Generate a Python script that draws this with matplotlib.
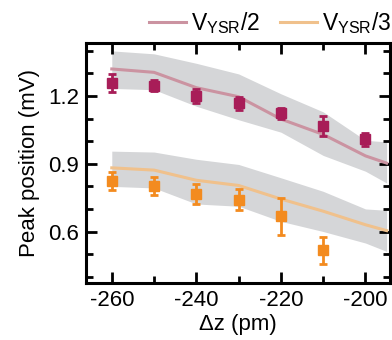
import matplotlib
matplotlib.use("Agg")
import matplotlib.pyplot as plt
from matplotlib.ticker import MultipleLocator

plt.rcParams['font.family'] = ['Liberation Sans', 'DejaVu Sans']
plt.rcParams['mathtext.fontset'] = 'custom'
plt.rcParams['mathtext.rm'] = 'Liberation Sans'

# Simulated curves with uncertainty bands
dz_sim = [-260, -250, -240, -230, -220, -210, -200, -195]
half_line = [1.32, 1.305, 1.237, 1.197, 1.098, 1.03, 0.935, 0.903]
half_upper = [1.40, 1.387, 1.345, 1.298, 1.21, 1.13, 1.004, 0.997]
half_lower = [1.234, 1.228, 1.155, 1.095, 1.04, 0.937, 0.867, 0.815]
third_line = [0.882, 0.872, 0.827, 0.804, 0.744, 0.69, 0.63, 0.604]
third_upper = [0.956, 0.952, 0.92, 0.897, 0.838, 0.778, 0.70, 0.694]
third_lower = [0.80, 0.793, 0.722, 0.712, 0.645, 0.60, 0.549, 0.512]

# Measured peak positions
dz_half = [-260, -250, -240, -230, -220, -210, -200]
peak_half = [1.256, 1.246, 1.20, 1.168, 1.123, 1.068, 1.008]
err_half = [0.04, 0.025, 0.03, 0.03, 0.025, 0.044, 0.03]
dz_third = [-260, -250, -240, -230, -220, -210]
peak_third = [0.823, 0.80, 0.767, 0.741, 0.667, 0.516]
err_third = [0.04, 0.04, 0.045, 0.046, 0.083, 0.061]

x_ticks = [-260, -240, -220, -200]
y_ticks = [0.6, 0.9, 1.2]

maroon = '#a81d58'
maroon_line = '#cb93a1'
orange = '#f38b1f'
orange_line = '#f0c18c'
band = '#d5d6d8'

fig = plt.figure(figsize=(3.92, 3.40), dpi=100)
ax = fig.add_axes([86/392, 1-283/340, 304/392, 240/340])

ax.fill_between(dz_sim, half_lower, half_upper, color=band, lw=0, zorder=1)
ax.fill_between(dz_sim, third_lower, third_upper, color=band, lw=0, zorder=1)
l1, = ax.plot(dz_sim, half_line, color=maroon_line, lw=2.2, zorder=2,
              label=r'$\mathregular{V_{YSR}/2}$')
l2, = ax.plot(dz_sim, third_line, color=orange_line, lw=2.2, zorder=2,
              label=r'$\mathregular{V_{YSR}/3}$')

ax.errorbar(dz_half, peak_half, yerr=err_half, fmt='s', color=maroon,
            ms=6.5, elinewidth=2, capsize=3, capthick=2, zorder=4)
ax.errorbar(dz_third, peak_third, yerr=err_third, fmt='s', color=orange,
            ms=6.5, elinewidth=2, capsize=3, capthick=2, zorder=4)

ax.set_xlim(-266.1, -194.2)
ax.set_ylim(0.372, 1.435)
ax.set_xticks(x_ticks)
ax.set_xticklabels([str(t) for t in x_ticks])
ax.xaxis.set_minor_locator(MultipleLocator(10))
ax.set_yticks(y_ticks)
ax.set_yticklabels([f'{t:.1f}' for t in y_ticks])
ax.yaxis.set_minor_locator(MultipleLocator(0.1))

for s in ax.spines.values():
    s.set_linewidth(2.2)
ax.tick_params(which='both', direction='in', top=True, right=True, width=2)
ax.tick_params(which='major', length=8, labelsize=16, pad=5)
ax.tick_params(which='minor', length=5)

ax.set_xlabel('Δz (pm)', fontsize=16, labelpad=2)
ax.set_ylabel('Peak position (mV)', fontsize=16, labelpad=6)

fig.legend(handles=[l1, l2], loc='center right', bbox_to_anchor=(1.02, 1-23/340),
           ncol=2, frameon=False, fontsize=16.5, handlelength=1.6,
           handletextpad=0.2, columnspacing=0.9, borderaxespad=0)

fig.savefig('out.png', dpi=100)
